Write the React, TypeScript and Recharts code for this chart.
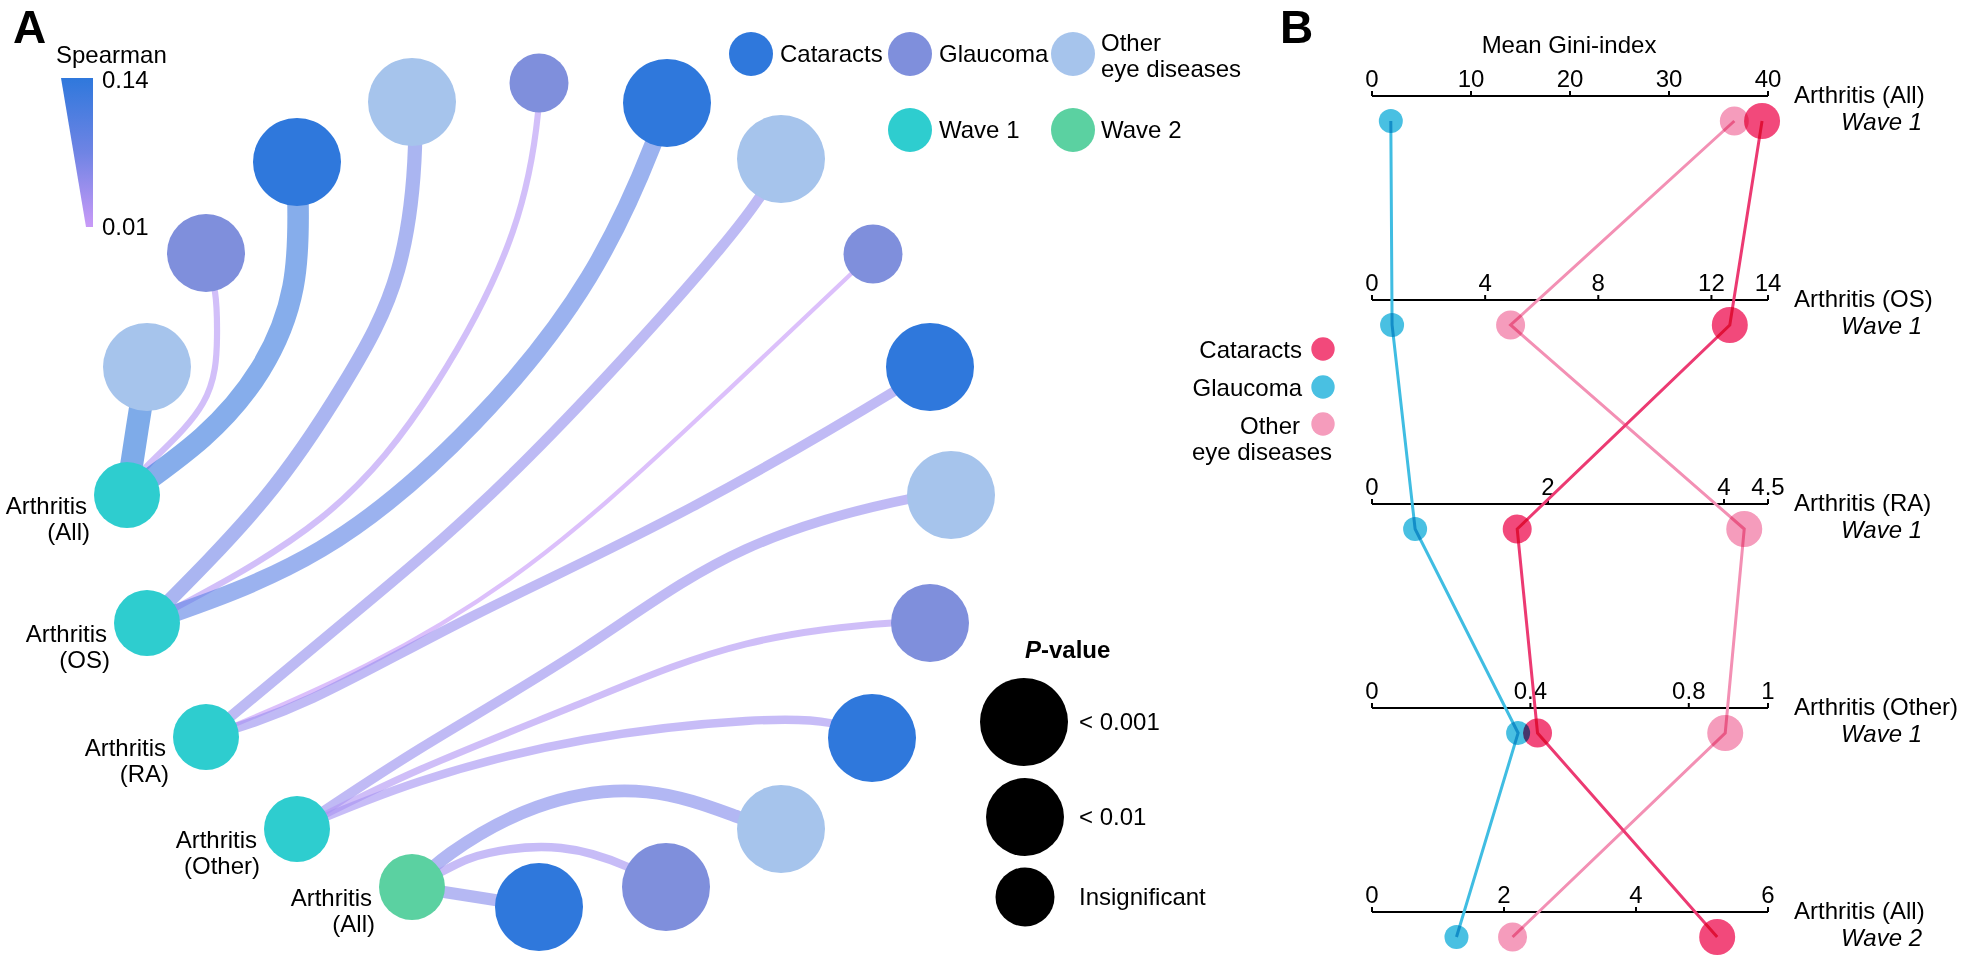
import React from 'react';
import { ScatterChart, Scatter, XAxis, YAxis } from 'recharts';

const FONT = '"Liberation Sans", Arial, Helvetica, sans-serif';
const FS = 24;

// ---------------- Panel A: network of Spearman correlations ----------------
const SOURCE_LINE1 = ['Arthritis', 'Arthritis', 'Arthritis', 'Arthritis', 'Arthritis'];
const SOURCE_LINE2 = ['(All)', '(OS)', '(RA)', '(Other)', '(All)'];
const SOURCE_WAVE = [1, 1, 1, 1, 2];
// layout position of each node in the network drawing (layout units)
const SOURCE_X = [127, 147, 206, 297, 412];
const SOURCE_Y = [495, 623, 737, 829, 887];

const LINK_SOURCE = [0, 0, 0, 1, 1, 1, 2, 2, 2, 3, 3, 3, 4, 4, 4];
const LINK_DISEASE = [
  'Other eye diseases', 'Glaucoma', 'Cataracts',
  'Other eye diseases', 'Glaucoma', 'Cataracts',
  'Other eye diseases', 'Glaucoma', 'Cataracts',
  'Other eye diseases', 'Glaucoma', 'Cataracts',
  'Other eye diseases', 'Glaucoma', 'Cataracts',
];
const LINK_SPEARMAN = [0.14, 0.025, 0.13, 0.08, 0.025, 0.1, 0.055, 0.012, 0.05, 0.05, 0.03, 0.04, 0.07, 0.04, 0.065];
const LINK_PVALUE = [
  '<0.001', '<0.01', '<0.001',
  '<0.001', 'ns', '<0.001',
  '<0.001', 'ns', '<0.001',
  '<0.001', '<0.01', '<0.001',
  '<0.001', '<0.001', '<0.001',
];
const TARGET_X = [147, 206, 297, 412, 539, 667, 781, 873, 930, 951, 930, 872, 781, 666, 539];
const TARGET_Y = [367, 253, 162, 102, 83, 103, 159, 254, 367, 495, 623, 738, 829, 887, 907];
// intermediate bend points of each curved link (layout units)
const LINK_BENDS: number[][][] = [
  [[137, 430]],
  [[150, 463], [203, 403], [217, 337], [215, 292]],
  [[203, 437], [260, 370], [293, 287], [298, 203]],
  [[264, 499], [344, 384], [398, 270], [415, 147]],
  [[321, 518], [436, 384], [513, 231], [538, 113]],
  [[321, 549], [474, 423], [589, 277], [652, 147]],
  [[367, 603], [529, 457], [719, 250]],
  [[367, 665], [529, 565], [692, 424], [852, 273]],
  [[313, 698], [475, 615], [692, 507], [898, 389]],
  [[421, 748], [584, 648], [746, 549], [909, 499]],
  [[421, 769], [584, 702], [746, 644], [892, 623]],
  [[421, 781], [584, 740], [746, 721], [830, 723]],
  [[451, 853], [537, 807], [647, 792], [738, 817]],
  [[451, 867], [489, 853], [561, 848], [628, 867]],
  [[476, 897]],
];

const A_DISEASE_COLOR: Record<string, string> = {
  Cataracts: '#2f78dc',
  Glaucoma: '#7f8fdc',
  'Other eye diseases': '#a6c4ec',
};
const WAVE_COLOR: Record<number, string> = { 1: '#2ecdcf', 2: '#5bd1a1' };
const P_RADIUS: Record<string, number> = { '<0.001': 44, '<0.01': 39, ns: 29.5 };
const SPEARMAN_MIN = 0.01;
const SPEARMAN_MAX = 0.14;

function spearmanT(s: number) {
  return Math.max(0, Math.min(1, (s - SPEARMAN_MIN) / (SPEARMAN_MAX - SPEARMAN_MIN)));
}
function spearmanColor(s: number) {
  const t = spearmanT(s);
  const lo = [201, 155, 248];
  const hi = [47, 120, 220];
  const c = lo.map((v, i) => Math.round(v + (hi[i] - v) * t));
  return `rgb(${c[0]},${c[1]},${c[2]})`;
}
function spearmanWidth(s: number) {
  return 4 + 19 * spearmanT(s);
}

const linkSeries = LINK_SOURCE.map((s, i) => [
  { x: SOURCE_X[s], y: SOURCE_Y[s] },
  ...LINK_BENDS[i].map(([x, y]) => ({ x, y })),
  { x: TARGET_X[i], y: TARGET_Y[i] },
]);
const targetData = TARGET_X.map((x, i) => ({ x, y: TARGET_Y[i], disease: LINK_DISEASE[i], p: LINK_PVALUE[i] }));
const sourceData = SOURCE_X.map((x, i) => ({
  x,
  y: SOURCE_Y[i],
  l1: SOURCE_LINE1[i],
  l2: SOURCE_LINE2[i],
  wave: SOURCE_WAVE[i],
}));

// ---------------- Panel B: mean Gini-index ----------------
const GINI_ROW_NAME = ['Arthritis (All)', 'Arthritis (OS)', 'Arthritis (RA)', 'Arthritis (Other)', 'Arthritis (All)'];
const GINI_ROW_WAVE = ['Wave 1', 'Wave 1', 'Wave 1', 'Wave 1', 'Wave 2'];
const GINI_AXIS_MAX = [40, 14, 4.5, 1, 6];
const GINI_AXIS_TICKS = [
  [0, 10, 20, 30, 40],
  [0, 4, 8, 12, 14],
  [0, 2, 4, 4.5],
  [0, 0.4, 0.8, 1],
  [0, 2, 4, 6],
];
const GINI_CATARACTS = [39.4, 12.65, 1.65, 0.418, 5.23];
const GINI_GLAUCOMA = [1.9, 0.71, 0.49, 0.369, 1.28];
const GINI_OTHER = [36.6, 4.9, 4.23, 0.892, 2.13];

const B_SERIES = [
  { name: 'Glaucoma', values: GINI_GLAUCOMA, dot: '#49c0e2', line: '#40bde2' },
  { name: 'Other eye diseases', values: GINI_OTHER, dot: '#f59cbc', line: '#f390b4' },
  { name: 'Cataracts', values: GINI_CATARACTS, dot: '#f2497b', line: '#ec3a72' },
];
const RANK_RADIUS = [12, 14.5, 18];
const AXIS_OFFSET = 25 / 204; // axis drawn slightly above its row of dots (row units)

function rankInRow(row: number, v: number) {
  const vals = B_SERIES.map((s) => s.values[row]).sort((a, b) => a - b);
  return vals.indexOf(v);
}

const axisLineData = GINI_AXIS_MAX.map((_, i) => [
  { x: 0, y: i - AXIS_OFFSET },
  { x: 1, y: i - AXIS_OFFSET },
]);
const tickData = GINI_AXIS_TICKS.flatMap((ticks, i) =>
  ticks.map((t) => ({ x: t / GINI_AXIS_MAX[i], y: i - AXIS_OFFSET, label: String(t) }))
);
const rowLabelData = GINI_ROW_NAME.map((n, i) => ({ x: 1, y: i - AXIS_OFFSET, name: n, wave: GINI_ROW_WAVE[i] }));
const bSeriesData = B_SERIES.map((s) =>
  s.values.map((v, i) => ({ x: v / GINI_AXIS_MAX[i], y: i, r: RANK_RADIUS[rankInRow(i, v)] }))
);

const EmptyShape = () => <g />;

const TargetShape = (props: any) => {
  const { cx, cy, payload } = props;
  return <circle cx={cx} cy={cy} r={P_RADIUS[payload.p]} fill={A_DISEASE_COLOR[payload.disease]} />;
};

const SourceShape = (props: any) => {
  const { cx, cy, payload } = props;
  return (
    <g>
      <circle cx={cx} cy={cy} r={33} fill={WAVE_COLOR[payload.wave]} />
      <text x={cx - 40} y={cy + 19} textAnchor="end" fontSize={FS} fontFamily={FONT} fill="#000">
        {payload.l1}
      </text>
      <text x={cx - 37} y={cy + 45} textAnchor="end" fontSize={FS} fontFamily={FONT} fill="#000">
        {payload.l2}
      </text>
    </g>
  );
};

const TickShape = (props: any) => {
  const { cx, cy, payload } = props;
  return (
    <g>
      <line x1={cx} y1={cy} x2={cx} y2={cy - 5} stroke="#000" strokeWidth={2} />
      <text x={cx} y={cy - 9} textAnchor="middle" fontSize={FS} fontFamily={FONT} fill="#000">
        {payload.label}
      </text>
    </g>
  );
};

const RowLabelShape = (props: any) => {
  const { cx, cy, payload } = props;
  return (
    <g>
      <text x={cx + 26} y={cy + 7} fontSize={FS} fontFamily={FONT} fill="#000">
        {payload.name}
      </text>
      <text x={cx + 154} y={cy + 34} textAnchor="end" fontSize={FS} fontStyle="italic" fontFamily={FONT} fill="#000">
        {payload.wave}
      </text>
    </g>
  );
};

const makeDotShape = (color: string) => (props: any) => {
  const { cx, cy, payload } = props;
  return <circle cx={cx} cy={cy} r={payload.r} fill={color} style={{ mixBlendMode: 'multiply' }} />;
};

const T = (p: any) => <text fontFamily={FONT} fontSize={FS} fill="#000" {...p} />;

export default function App() {
  return (
    <div style={{ position: 'absolute', left: 0, top: 0, width: 1965, height: 970, background: '#fff', overflow: 'hidden' }}>
      {/* Panel A chart */}
      <div style={{ position: 'absolute', left: 0, top: 0 }}>
        <ScatterChart width={1260} height={970} margin={{ top: 0, right: 0, bottom: 0, left: 0 }}>
          <XAxis type="number" dataKey="x" domain={[0, 1260]} hide height={0} />
          <YAxis type="number" dataKey="y" domain={[0, 970]} reversed hide width={0} />
          {linkSeries.map((pts, i) => (
            <Scatter
              key={`link-${i}`}
              data={pts}
              line={{
                stroke: spearmanColor(LINK_SPEARMAN[i]),
                strokeWidth: spearmanWidth(LINK_SPEARMAN[i]),
                strokeOpacity: 0.62,
                fill: 'none',
              }}
              lineType="joint"
              lineJointType="natural"
              shape={EmptyShape}
              isAnimationActive={false}
            />
          ))}
          <Scatter data={targetData} shape={TargetShape} isAnimationActive={false} />
          <Scatter data={sourceData} shape={SourceShape} isAnimationActive={false} />
        </ScatterChart>
      </div>

      {/* Panel B chart */}
      <div style={{ position: 'absolute', left: 1280, top: 0 }}>
        <ScatterChart width={685} height={970} margin={{ top: 19, right: 197, bottom: 33, left: 92 }}>
          <XAxis type="number" dataKey="x" domain={[0, 1]} hide height={0} />
          <YAxis type="number" dataKey="y" domain={[-0.5, 4]} reversed hide width={0} />
          {axisLineData.map((pts, i) => (
            <Scatter
              key={`axis-${i}`}
              data={pts}
              line={{ stroke: '#000', strokeWidth: 2, fill: 'none' }}
              lineType="joint"
              lineJointType="linear"
              shape={EmptyShape}
              isAnimationActive={false}
            />
          ))}
          <Scatter data={tickData} shape={TickShape} isAnimationActive={false} />
          <Scatter data={rowLabelData} shape={RowLabelShape} isAnimationActive={false} />
          {B_SERIES.map((s, k) => (
            <Scatter
              key={`bline-${k}`}
              data={bSeriesData[k]}
              line={{ stroke: s.line, strokeWidth: 3, fill: 'none' }}
              lineType="joint"
              lineJointType="linear"
              shape={EmptyShape}
              isAnimationActive={false}
            />
          ))}
          {B_SERIES.map((s, k) => (
            <Scatter key={`bdot-${k}`} data={bSeriesData[k]} shape={makeDotShape(s.dot)} isAnimationActive={false} />
          ))}
        </ScatterChart>
      </div>

      {/* Legends and panel titles */}
      <svg width={1965} height={970} style={{ position: 'absolute', left: 0, top: 0, pointerEvents: 'none' }}>
        <defs>
          <linearGradient id="spearGrad" x1="0" y1="0" x2="0" y2="1">
            <stop offset="0%" stopColor="#2f78dc" />
            <stop offset="50%" stopColor="#6f84e4" />
            <stop offset="100%" stopColor="#c99af7" />
          </linearGradient>
        </defs>
        <T x={13} y={43} fontSize={46} fontWeight="bold">A</T>
        <T x={56} y={63}>Spearman</T>
        <polygon points="61,78 93,78 93,227 86,227" fill="url(#spearGrad)" />
        <T x={102} y={88}>0.14</T>
        <T x={102} y={235}>0.01</T>

        <circle cx={751} cy={54} r={22} fill={A_DISEASE_COLOR.Cataracts} />
        <T x={780} y={62}>Cataracts</T>
        <circle cx={910} cy={54} r={22} fill={A_DISEASE_COLOR.Glaucoma} />
        <T x={939} y={62}>Glaucoma</T>
        <circle cx={1073} cy={54} r={22} fill={A_DISEASE_COLOR['Other eye diseases']} />
        <T x={1101} y={51}>Other</T>
        <T x={1101} y={77}>eye diseases</T>
        <circle cx={910} cy={130} r={22} fill={WAVE_COLOR[1]} />
        <T x={939} y={138}>Wave 1</T>
        <circle cx={1073} cy={130} r={22} fill={WAVE_COLOR[2]} />
        <T x={1101} y={138}>Wave 2</T>

        <T x={1025} y={658} fontWeight="bold">
          <tspan fontStyle="italic">P</tspan>-value
        </T>
        <circle cx={1024} cy={722} r={P_RADIUS['<0.001']} fill="#000" />
        <T x={1079} y={730}>&lt; 0.001</T>
        <circle cx={1025} cy={817} r={P_RADIUS['<0.01']} fill="#000" />
        <T x={1079} y={825}>&lt; 0.01</T>
        <circle cx={1025} cy={897} r={P_RADIUS.ns} fill="#000" />
        <T x={1079} y={905}>Insignificant</T>

        <T x={1280} y={43} fontSize={46} fontWeight="bold">B</T>
        <T x={1569} y={53} textAnchor="middle">Mean Gini-index</T>

        <T x={1302} y={358} textAnchor="end">Cataracts</T>
        <circle cx={1323} cy={349} r={11.7} fill="#f2497b" />
        <T x={1302} y={396} textAnchor="end">Glaucoma</T>
        <circle cx={1323} cy={387} r={11.7} fill="#49c0e2" />
        <T x={1300} y={434} textAnchor="end">Other</T>
        <T x={1332} y={460} textAnchor="end">eye diseases</T>
        <circle cx={1323} cy={424} r={11.7} fill="#f59cbc" />
      </svg>
    </div>
  );
}
